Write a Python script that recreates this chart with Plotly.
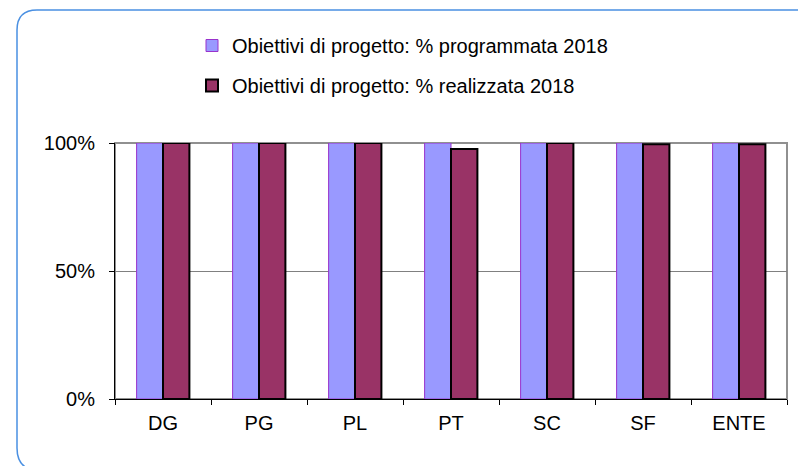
import plotly.graph_objects as go

categories = ["DG", "PG", "PL", "PT", "SC", "SF", "ENTE"]
programmata = [1.0, 1.0, 1.0, 1.0, 1.0, 1.0, 1.0]
realizzata = [1.0, 1.0, 1.0, 0.977, 1.0, 0.995, 0.995]
series_names = ["Obiettivi di progetto: % programmata 2018",
                "Obiettivi di progetto: % realizzata 2018"]
ytick_vals = [0, 0.5, 1.0]
ytick_text = ["0%", "50%", "100%"]

W, H = 798, 466
L, R, T, B = 115, 11, 143, 67
pw, ph = W - L - R, H - T - B

def px(x):
    return (x - L) / pw

def py(y):
    return (H - B - y) / ph

fig = go.Figure()
fig.add_trace(go.Bar(
    x=categories, y=programmata, name=series_names[0], legendgroup="a",
    marker=dict(color="#9999FF", line=dict(color="#9933CC", width=1)),
))
fig.add_trace(go.Bar(
    x=categories, y=realizzata, name=series_names[1], legendgroup="b",
    marker=dict(color="#993366", line=dict(color="#000000", width=2)),
))

font = "Liberation Sans, Arial, sans-serif"
border_path = (
    f"M {px(800)} {py(10)} L {px(37)} {py(10)} "
    f"Q {px(17)} {py(10)} {px(17)} {py(30)} "
    f"L {px(17)} {py(448)} Q {px(17)} {py(466)} {px(32)} {py(470)}"
)

fig.update_layout(
    width=W, height=H,
    margin=dict(l=L, r=R, t=T, b=B),
    paper_bgcolor="white", plot_bgcolor="white",
    barmode="group", bargap=0.45, bargroupgap=0,
    font=dict(family=font, color="black"),
    showlegend=True,
    legend=dict(
        x=px(192), y=py(26), xanchor="left", yanchor="top",
        xref="paper", yref="paper",
        font=dict(size=20, family=font), traceorder="grouped",
        tracegroupgap=11, itemwidth=30, bgcolor="rgba(0,0,0,0)",
    ),
    xaxis=dict(
        showline=True, linecolor="black", linewidth=1,
        ticks="outside", tickson="boundaries", ticklen=5, tickcolor="black",
        tickfont=dict(size=20, family=font), ticklabelstandoff=6,
        showgrid=False, fixedrange=True,
    ),
    yaxis=dict(
        range=[0, 1.0], tickvals=ytick_vals, ticktext=ytick_text,
        showline=True, linecolor="black", linewidth=1,
        ticks="outside", ticklen=5, tickcolor="black",
        tickfont=dict(size=20, family=font), ticklabelstandoff=10,
        showgrid=True, gridcolor="#808080", gridwidth=1,
        zeroline=False, fixedrange=True,
    ),
    shapes=[
        dict(type="rect", xref="paper", yref="paper", x0=0, y0=0, x1=1, y1=1,
             line=dict(color="#909090", width=2), layer="below"),
        dict(type="path", xref="paper", yref="paper", path=border_path,
             line=dict(color="#4A90E2", width=1.5)),
    ],
)

fig.write_html("out.html", config={"displayModeBar": False},
               post_script="document.body.style.margin='0';")
